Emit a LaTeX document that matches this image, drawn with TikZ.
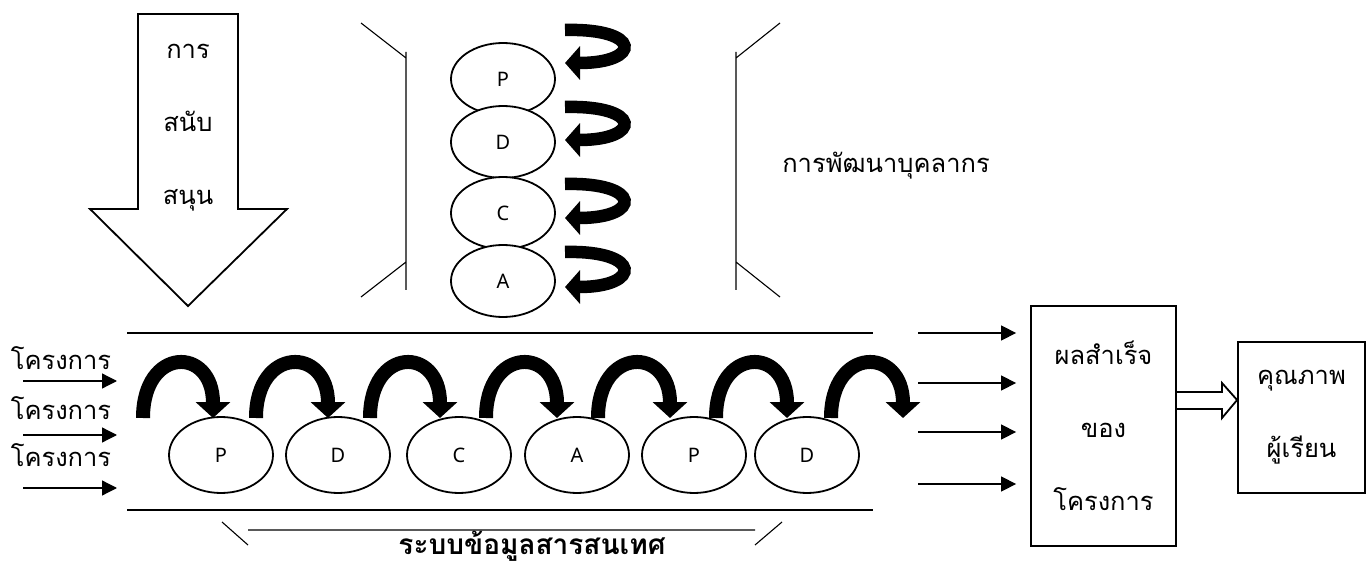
\documentclass[tikz,border=0pt]{standalone}
\usepackage{fontspec}
\setmainfont{Noto Sans}
\newfontfamily\thaifont[Script=Thai]{Loma}
\usepackage{tikz}
\usetikzlibrary{arrows.meta,shapes.geometric}
\tikzset{>=Stealth}
\tikzset{
    thaitext/.style={font=\thaifont\fontsize{25.5}{73}\selectfont, align=center, inner sep=0pt},
    pdca/.style={ellipse, draw, fill=white, line width=1.8pt, minimum width=104pt, minimum height=72pt, inner sep=0pt, font=\fontsize{20}{22}\selectfont},
    box/.style={draw, line width=1.8pt, inner sep=0pt},
    thinline/.style={line width=1.1pt},
    feed/.style={line width=1.3pt, -{Triangle[length=15pt,width=15pt]}},
    hop/.style={line width=14pt, -{Triangle[length=16pt,width=34pt]}},
    uturn/.style={line width=12.5pt, -{Triangle[length=15pt,width=33pt]}}
}

\begin{document}
\begin{tikzpicture}[x=1pt, y=-1pt]
    \useasboundingbox (0,0) rectangle (1366,569);
    % support arrow
    \draw[line width=1.8pt] (138,14) -- (238,14) -- (238,209) -- (287,209) -- (188,306) -- (90,209) -- (138,209) -- cycle;
    \node[thaitext] at (188,128) (support) {การ\\สนับ\\สนุน};
    % staff development stack
    \draw[thinline] (361,23) -- (406,58) (406,52) -- (406,290) (406,262) -- (361,297);
    \draw[thinline] (780,23) -- (736,58) (736,52) -- (736,290) (736,262) -- (780,297);
    \node[pdca] at (503,79) (sp) {P};
    \node[pdca] at (503,142) (sd) {D};
    \node[pdca] at (503,213) (sc) {C};
    \node[pdca] at (503,281) (sa) {A};
    \draw[uturn] (565,30) .. controls (642,28) and (642,63) .. (565,63);
    \draw[uturn] (565,107) .. controls (642,105) and (642,140) .. (565,140);
    \draw[uturn] (565,184) .. controls (642,182) and (642,218) .. (565,218);
    \draw[uturn] (565,252) .. controls (642,250) and (642,287) .. (565,287);
    \node[thaitext] at (886,166) (dev) {การพัฒนาบุคลากร};
    % project flow
    \node[thaitext] at (61,358) (proj1) {โครงการ};
    \node[thaitext] at (61,408) (proj2) {โครงการ};
    \node[thaitext] at (61,455) (proj3) {โครงการ};
    \draw[feed] (23,381) -- (117,381);
    \draw[feed] (23,435) -- (117,435);
    \draw[feed] (23,488) -- (117,488);
    \draw[thinline] (127,333) -- (873,333) (127,510) -- (873,510);
    \node[pdca, minimum height=76pt] at (221,455) (p1) {P};
    \node[pdca, minimum height=76pt] at (338,455) (d1) {D};
    \node[pdca, minimum height=76pt] at (459,455) (c1) {C};
    \node[pdca, minimum height=76pt] at (577,455) (a1) {A};
    \node[pdca, minimum height=76pt] at (694,455) (p2) {P};
    \node[pdca, minimum height=76pt] at (807,455) (d2) {D};
    \draw[hop] (143,418) .. controls +(0,-72) and +(0,-72) .. (213,418);
    \draw[hop] (256,418) .. controls +(0,-72) and +(0,-72) .. (328,418);
    \draw[hop] (370,418) .. controls +(0,-72) and +(0,-72) .. (440,418);
    \draw[hop] (486,418) .. controls +(0,-72) and +(0,-72) .. (557,418);
    \draw[hop] (598,418) .. controls +(0,-72) and +(0,-72) .. (670,418);
    \draw[hop] (716,418) .. controls +(0,-72) and +(0,-72) .. (787,418);
    \draw[hop] (831,418) .. controls +(0,-72) and +(0,-72) .. (903,418);
    % information system
    \draw[thinline] (222,522) -- (248,545) (248,530) -- (755,530) (755,545) -- (782,522);
    \node[thaitext, font=\thaifont\bfseries\fontsize{28}{30}\selectfont] at (532,546) (info) {ระบบข้อมูลสารสนเทศ};
    % outcomes
    \node[box, thaitext, minimum width=145pt, minimum height=240pt] at (1103.5,426) (result) {ผลสำเร็จ\\ของ\\โครงการ};
    \node[box, thaitext, minimum width=127pt, minimum height=151pt] at (1301.5,417.5) (quality) {คุณภาพ\\ผู้เรียน};
    \draw[feed, shorten >=14pt] (918,333) -- (result.west |- 0,333);
    \draw[feed, shorten >=14pt] (918,383) -- (result.west |- 0,383);
    \draw[feed, shorten >=14pt] (918,432) -- (result.west |- 0,432);
    \draw[feed, shorten >=14pt] (918,484) -- (result.west |- 0,484);
    \draw[line width=1.8pt] (result.east |- 0,392) -- (1222,392) -- (1222,383) -- (quality.west |- 0,400) -- (1222,418) -- (1222,409) -- (result.east |- 0,409);
\end{tikzpicture}
\end{document}
